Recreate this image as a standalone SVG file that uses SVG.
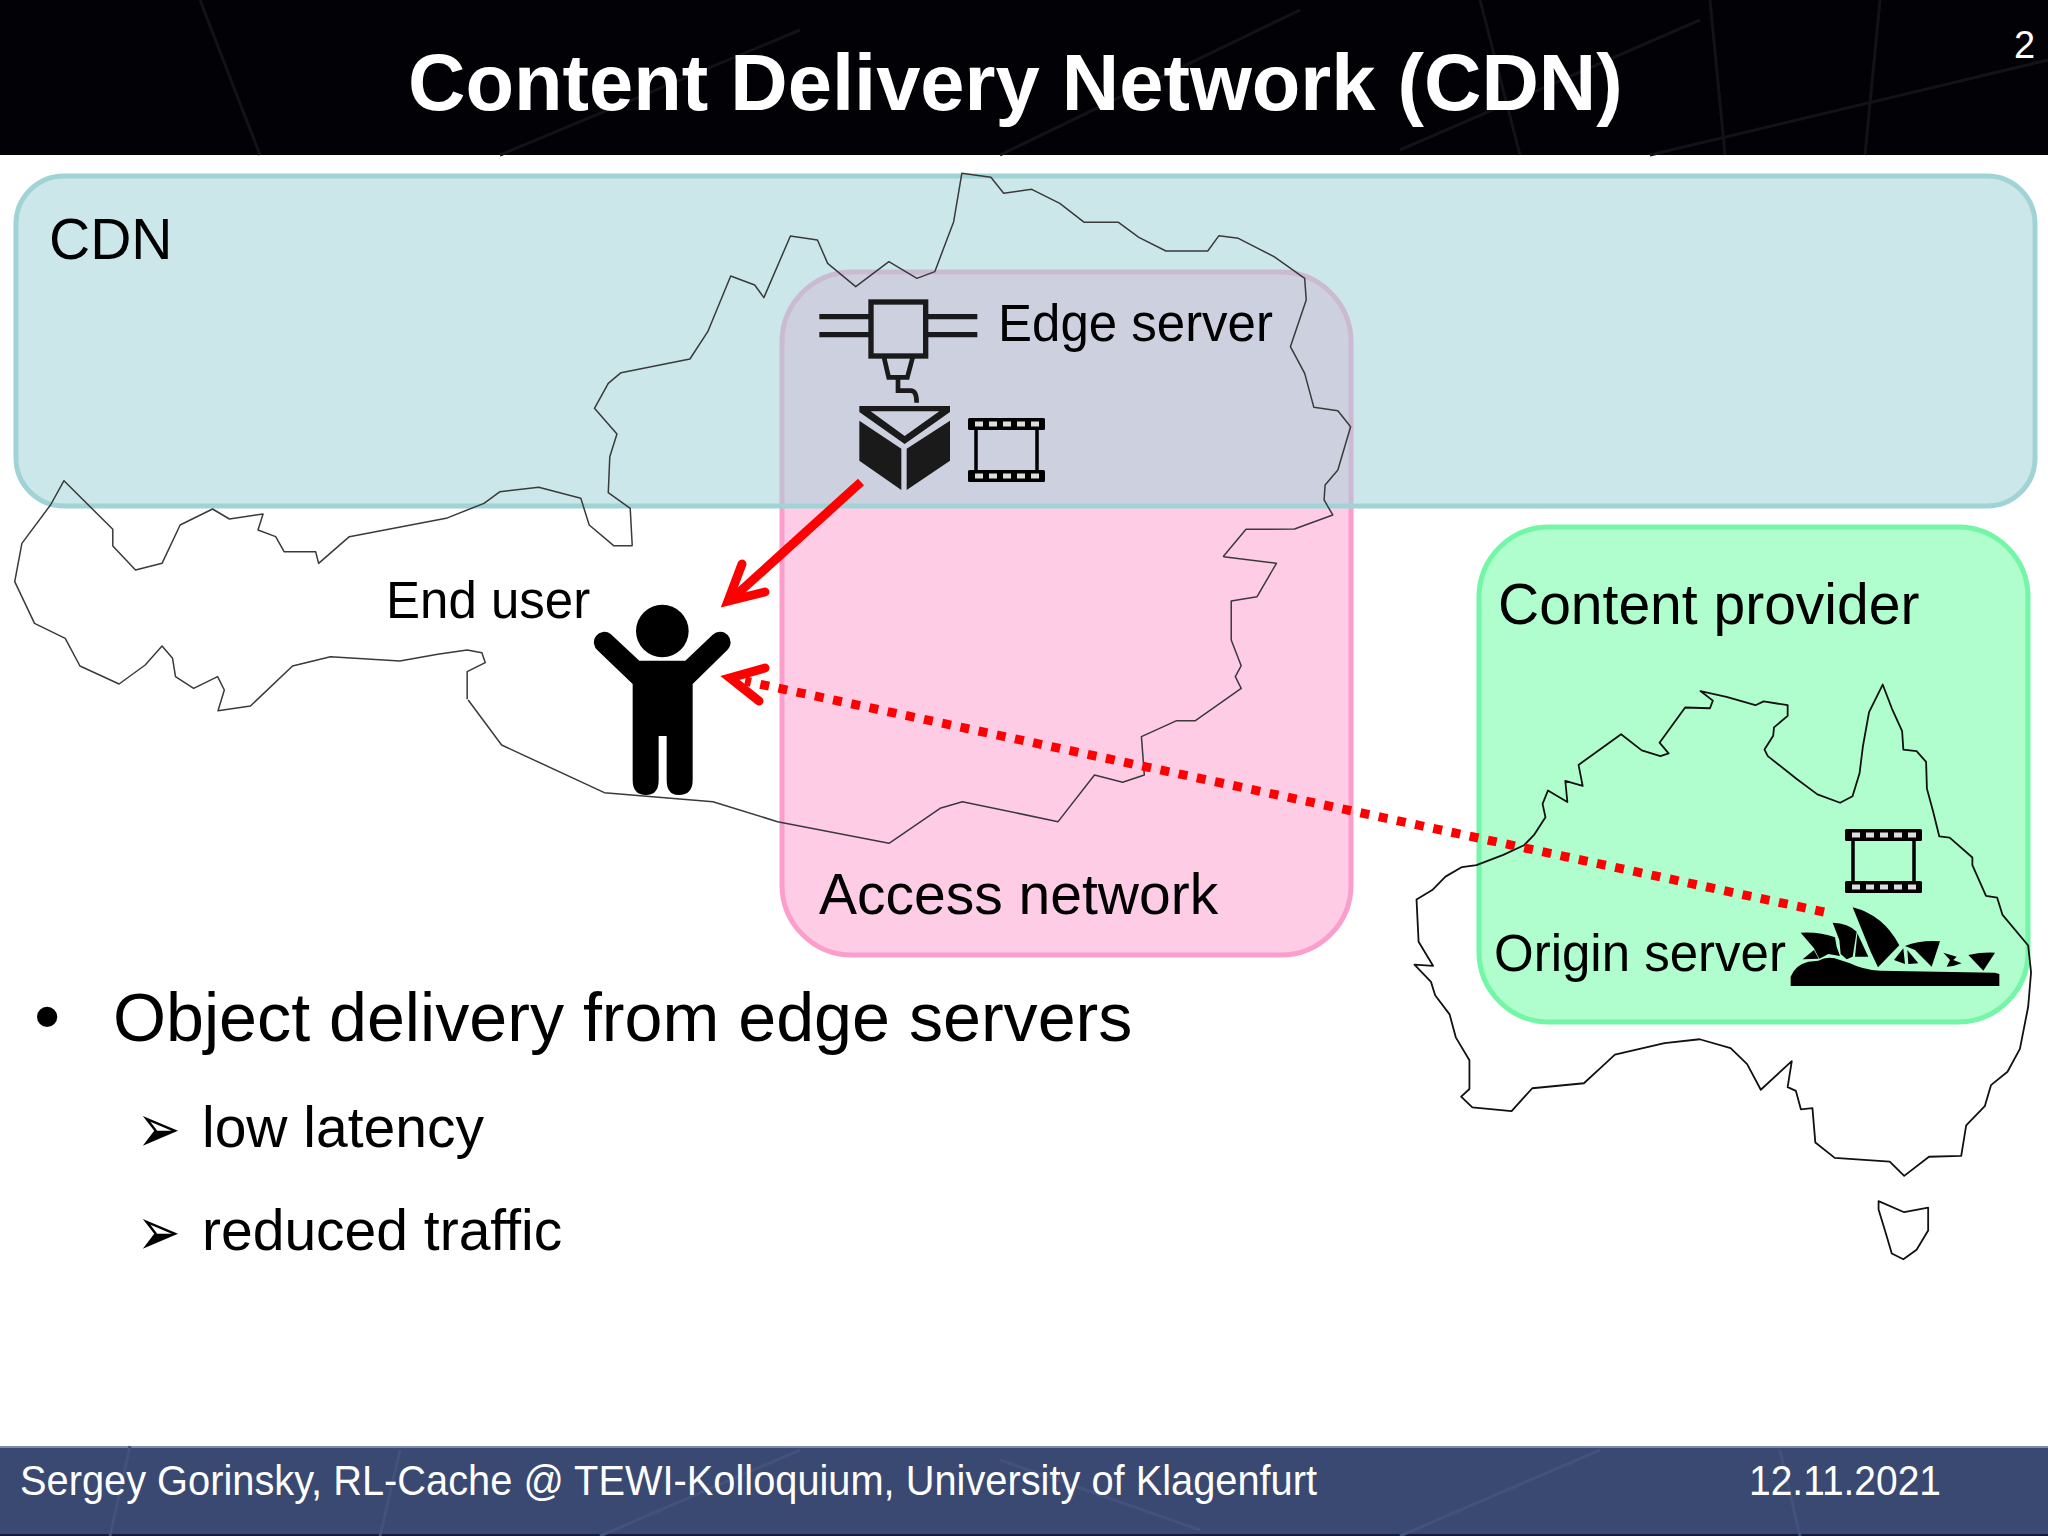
<svg xmlns="http://www.w3.org/2000/svg" width="2048" height="1536" viewBox="0 0 2048 1536">
<style>
text{font-family:"Liberation Sans",Arial,sans-serif;fill:#000}
.w{fill:#fff}
.map{fill:none;stroke:#3a3a3a;stroke-width:1.5;stroke-linejoin:round;vector-effect:non-scaling-stroke}
.aus{fill:none;stroke:#111;stroke-width:1.8;stroke-linejoin:round;vector-effect:non-scaling-stroke}
.tex{fill:none;stroke-width:3}
.arr{fill:none;stroke:#f00;stroke-width:9}
.sym{font-family:"DejaVu Sans",sans-serif}
</style>
<defs>
<g id="film">
<rect x="0" y="0" width="77" height="12" rx="1.5" fill="#000"/>
<rect x="0" y="52" width="77" height="12" rx="1.5" fill="#000"/>
<path d="M8 11V53M69 11V53" stroke="#000" stroke-width="3.5" fill="none"/>
<path d="M7 6h8M21 6h8M35 6h8M49 6h8M63 6h8M7 58h8M21 58h8M35 58h8M49 58h8M63 58h8" stroke="#ddd" stroke-width="5" fill="none"/>
</g>
</defs>
<rect width="2048" height="1536" fill="#fff"/>
<g id="header">
<rect width="2048" height="155" fill="#020206"/>
<path class="tex" stroke="#121218" d="M1400 150L1700 20M1650 155L2048 60M1710 0L1725 155M1880 0L1865 155M1480 0L1520 155M200 0L260 155M500 155L800 30M1000 155L1300 10"/>
<text class="w" x="408" y="110" font-size="79.5" font-weight="700" id="title">Content Delivery Network (CDN)</text>
<text class="w" x="2014" y="58" font-size="38">2</text>
</g>
<g id="access-network">
<rect x="782" y="272" width="569" height="683" rx="70" fill="#ffcce6" stroke="#fb9ecb" stroke-width="5"/>
<text x="819" y="914" font-size="57">Access network</text>
</g>
<g id="cdn">
<rect x="16" y="176" width="2019" height="330" rx="48" fill="#a2d3d8" fill-opacity=".55" stroke="#a0d3d5" stroke-width="5"/>
<text x="49" y="259" font-size="57">CDN</text>
</g>
<g id="content-provider">
<rect x="1479" y="527" width="549" height="495" rx="70" fill="#b0fdcd" stroke="#74f6a7" stroke-width="5"/>
<text x="1498" y="624" font-size="57">Content provider</text>
</g>
<g id="maps">
<path class="map" transform="translate(0 460) scale(.42088 .33333)" d="M1503 257L1458 257L1400 195L1380 115L1280 82L1188 95L1150 130L1060 175L830 230L757 310L750 275L675 275L655 230L613 210L625 162L545 177L505 147L428 195L385 310L322 330L268 258L268 208L152 62L120 135L52 250L35 365L82 490L155 535L190 618L283 672L345 615L385 558L410 595L417 650L460 685L517 650L533 690L518 752L595 738L695 618L785 590L950 603L1040 583L1110 570L1145 578L1153 608L1110 635L1110 718"/>
<path class="map" transform="translate(570 160) scale(.5102 .33333)" d="M122 1157L118 1045L75 998L78 890L92 822L48 745L75 670L100 638L235 597L270 515L315 348L362 375L380 413L432 228L485 240L505 310L560 380L625 305L680 355L715 335L752 185L768 40L825 52L850 100L905 88L960 130L1008 187L1075 187L1115 232L1168 273L1250 273L1272 227L1310 235L1380 290L1440 355L1443 420L1412 560L1440 640L1458 742L1505 752L1530 800L1505 930L1480 975L1478 1020L1495 1065L1420 1107L1325 1108L1280 1190"/>
<path class="map" transform="translate(440 500) scale(.58696 .33333)" d="M1335 170L1425 190L1392 290L1348 303L1348 420L1365 497L1355 530L1365 565L1287 662L1255 662L1195 710L1200 825L1163 847L1115 825L1053 965L890 905L852 925L765 1030L575 965L465 905L280 878L105 735L48 600"/>
<g transform="translate(1400 670) scale(.41327 .38265)">
<path class="aus" d="M150 515L185 510L250 483L300 458L325 430L352 385L345 350L358 315L405 345L400 290L442 303L432 248L535 168L585 210L630 225L650 218L628 190L690 98L750 100L757 80L727 55L790 70L860 92L880 82L938 92L938 120L905 150L903 172L882 208L890 225L960 285L1010 325L1065 347L1095 330L1112 270L1120 200L1135 110L1168 38L1190 100L1215 160L1218 208L1250 212L1273 240L1275 310L1290 370L1305 435L1330 438L1385 490L1385 510L1418 590L1445 595L1458 640L1520 720L1527 790L1520 880L1500 990L1470 1050L1430 1085L1415 1140L1370 1190L1358 1270L1280 1272L1220 1322L1185 1285L1052 1275L1005 1235L998 1145L970 1148L958 1100L938 1090L948 1022L873 1097L840 1030L800 988L725 965L640 975L520 1005L490 1035L445 1080L320 1093L270 1153L175 1143L148 1115L168 1095L168 1020L135 960L120 900L85 850L75 815L35 770L80 773L45 710L40 600L78 575L110 540Z"/>
<path class="aus" d="M1158 1388L1220 1417L1278 1405L1278 1465L1250 1515L1218 1540L1190 1525L1175 1470L1158 1410Z"/>
</g>
</g>
<g id="edge-server">
<text x="998" y="341" font-size="51">Edge server</text>
<g transform="translate(780 260) scale(.33333)">
<rect x="273" y="126" width="164" height="162" fill="none" stroke="#1a1a1a" stroke-width="16"/>
<path d="M118 170H268M118 224H268M442 170H592M442 224H592" stroke="#1a1a1a" stroke-width="16" fill="none"/>
<path d="M312 292L326 352H382L398 292" stroke="#1a1a1a" stroke-width="14" fill="none"/>
<path d="M354 356V392H392Q410 392 410 428" stroke="#1a1a1a" stroke-width="14" fill="none"/>
<path fill-rule="evenodd" fill="#1a1a1a" d="M238 438H510V456L374 552L238 456ZM272 454L374 528L478 454Z"/>
<path fill="#1a1a1a" d="M238 482L364 566V690L238 602ZM510 482L380 566V690L510 602Z"/>
</g>
<use href="#film" x="968" y="418"/>
</g>
<g id="origin-server">
<text x="1494" y="971" font-size="51">Origin server</text>
<use href="#film" x="1845" y="829"/>
<g transform="translate(1740 800) scale(.33333)" fill="#000">
<path d="M152 564V530Q165 495 205 485L235 482Q265 465 300 480L330 490Q370 510 420 512L765 518L778 522V558H152Z"/>
<path d="M182 398Q240 395 285 412L290 440L300 468L265 462L238 476L222 445Z"/>
<path d="M188 478L222 450L236 476Z"/>
<path d="M278 368Q325 370 350 395L338 470L320 478L302 462L298 420Z"/>
<path d="M352 400L385 470L345 470Z"/>
<path d="M338 322Q430 345 478 436L414 502L392 455Z"/>
<path d="M495 438Q540 420 600 424L575 500L525 450Z"/>
<path d="M462 480L490 445L495 492ZM502 450L535 490L505 492Z"/>
<path d="M685 465Q725 456 765 458L730 512Z"/>
<path d="M610 458L650 470L640 480L665 490L640 498L620 500L630 480Z"/>
</g>
</g>
<g id="end-user">
<text x="386" y="618" font-size="51">End user</text>
<g transform="translate(570 580) scale(.33333)">
<circle cx="277" cy="153" r="79" fill="#000"/>
<path fill="#000" d="M188 312L84 212A24 24 0 0 1 122 162L208 242H346L428 164A24 24 0 0 1 472 210L368 312V600Q368 645 326 645Q290 645 290 600V468H266V600Q266 645 228 645Q188 645 188 600Z"/>
</g>
</g>
<g id="connectors">
<path class="arr" d="M861 482L735 596"/>
<path class="arr" d="M742 564L728 601L765 592" stroke-linecap="round"/>
<path class="arr" stroke-dasharray="9 9.6" d="M1824 912L745 681"/>
<path class="arr" d="M765 668L730 678L759 701" stroke-linecap="round"/>
</g>
<g id="bullets">
<text x="34" y="1042" font-size="75">•</text>
<text x="113" y="1041" font-size="68.2">Object delivery from edge servers</text>
<text class="sym" transform="translate(137 1152) scale(1 1.3)" font-size="52">➢</text>
<text x="202" y="1147" font-size="57">low latency</text>
<text class="sym" transform="translate(137 1255) scale(1 1.3)" font-size="52">➢</text>
<text x="202" y="1250" font-size="57">reduced traffic</text>
</g>
<g id="footer">
<rect y="1446" width="2048" height="90" fill="#3a4972"/>
<path d="M0 1447H2048" stroke="#7f8aa6" stroke-width="2"/>
<path d="M0 1535H2048" stroke="#141c3a" stroke-width="2"/>
<path class="tex" stroke="#43527c" d="M130 1446L110 1536M400 1450L380 1536M600 1536L800 1450M1400 1536L1600 1450M1780 1450L1800 1536M1000 1460L1200 1530"/>
<text class="w" x="20" y="1495" font-size="42" textLength="1297" lengthAdjust="spacingAndGlyphs">Sergey Gorinsky, RL-Cache @ TEWI-Kolloquium, University of Klagenfurt</text>
<text class="w" x="1749" y="1495" font-size="42" textLength="192" lengthAdjust="spacingAndGlyphs">12.11.2021</text>
</g>
</svg>
